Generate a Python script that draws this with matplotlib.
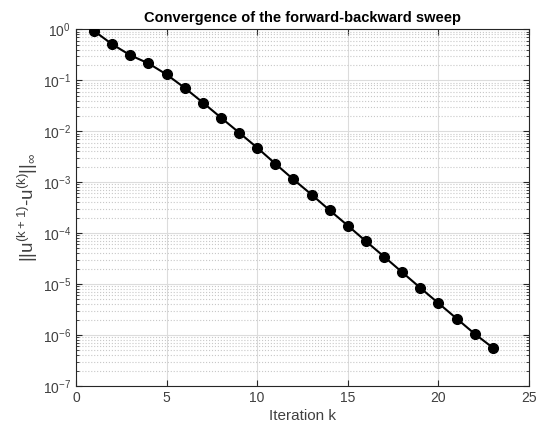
import matplotlib
matplotlib.use("Agg")
import matplotlib.pyplot as plt
from matplotlib.ticker import LogLocator, NullFormatter, FixedLocator

plt.rcParams['font.family'] = ['Liberation Sans', 'DejaVu Sans']
plt.rcParams['mathtext.default'] = 'regular'

# iteration number and sup-norm of successive control difference
iterations = list(range(1, 24))
errors = [0.93, 0.51, 0.31, 0.215, 0.13, 0.071, 0.0366, 0.0185, 0.0094,
          0.00475, 0.0023, 0.00113, 5.7e-4, 2.8e-4, 1.4e-4, 6.9e-5, 3.45e-5,
          1.7e-5, 8.4e-6, 4.2e-6, 2.1e-6, 1.05e-6, 5.6e-7]

x_ticks = [0, 5, 10, 15, 20, 25]

fig = plt.figure(figsize=(5.5, 4.38), dpi=100)
ax = fig.add_axes([0.138, 0.119, 0.824, 0.814])

ax.semilogy(iterations, errors, '-o', color='black', linewidth=1.5,
            markersize=7, markerfacecolor='black', zorder=3)

ax.set_xlim(0, 25)
ax.set_ylim(1e-7, 1e0)
ax.xaxis.set_major_locator(FixedLocator(x_ticks))
ax.yaxis.set_major_locator(LogLocator(base=10, numticks=10))
ax.yaxis.set_minor_locator(LogLocator(base=10, subs=range(2, 10), numticks=20))
ax.yaxis.set_minor_formatter(NullFormatter())

ax.grid(True, which='major', color='#dcdcdc', linestyle='-', linewidth=0.8)
ax.grid(True, which='minor', axis='y', color='#c8c8c8', linestyle=':', linewidth=0.8)
ax.set_axisbelow(True)

for s in ax.spines.values():
    s.set_color('#262626')
    s.set_linewidth(0.8)
ax.tick_params(which='both', direction='in', top=True, right=True,
               colors='#262626', labelsize=10, labelcolor='#404040')
ax.tick_params(which='major', length=4)
ax.tick_params(which='minor', length=2)

ax.set_title('Convergence of the forward-backward sweep', fontsize=10.5,
             fontweight='bold', pad=5)
ax.set_xlabel('Iteration k', fontsize=11, color='#404040', labelpad=3)
ax.set_ylabel(r'$||u^{(k+1)}$-$u^{(k)}||_{\infty}$', fontsize=13.5, color='#404040',
              labelpad=2)

fig.savefig('out.png', dpi=100, facecolor='white')
